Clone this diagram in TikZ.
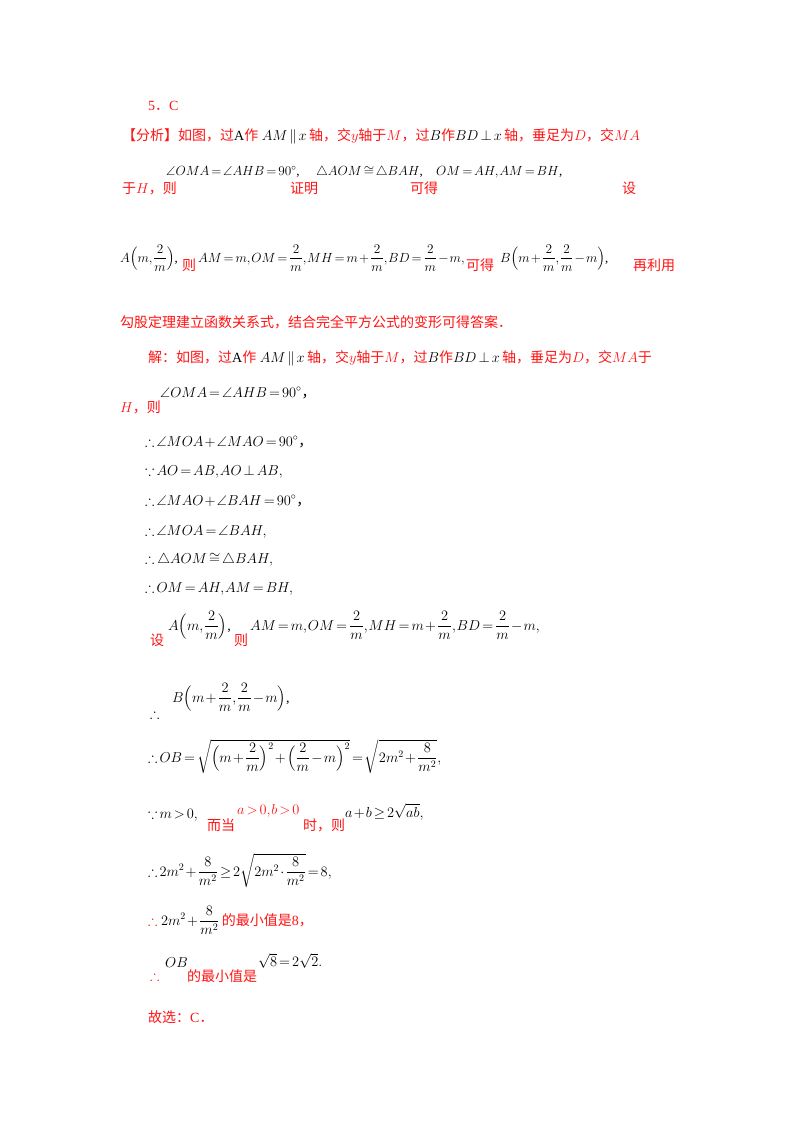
\documentclass[tikz,border=0pt]{standalone}
\usepackage{amsmath,amssymb}
\usepackage{fontspec}
\setmainfont{Liberation Serif}
\newfontfamily\cjk{Noto Sans CJK SC}
\newcommand{\zh}[1]{{\cjk #1}}
\newcommand{\sq}[1]{\scalebox{0.92}{#1}}
\definecolor{rd}{RGB}{255,20,20}
\AtBeginDocument{\medmuskip=1.5mu\thickmuskip=2.5mu\thinmuskip=1mu}
\begin{document}
\begin{tikzpicture}[x=1pt,y=-1pt,
  t/.style={anchor=base west,inner sep=0pt,font=\fontsize{14}{17}\selectfont},
  r/.style={t,text=rd}]
\useasboundingbox[fill=white] (0,0) rectangle (800,1132);
\node[r] (a1) at (148,110) {5\zh{．}C};
\node[r] (a2) at (122,140) {\zh{【分析】如图，过}\textcolor{black}{A}\zh{作} \textcolor{black}{$AM\parallel x$}\,\zh{轴，交}$y$\zh{轴于}$M$\zh{，过}\textcolor{black}{$B$}\zh{作}\textcolor{black}{$BD\perp x$}\,\zh{轴，垂足为}$D$\zh{，交}$MA$};
\node[r] (b1) at (122,193) {\zh{于}$H$\zh{，则}};
\node[t] (b2) at (166,175) {\sq{$\angle OMA=\angle AHB=90^\circ$,}};
\node[r] (b3) at (290,193) {\zh{证明}};
\node[t] (b4) at (316,175) {\sq{$\triangle AOM\cong\triangle BAH$,}};
\node[r] (b5) at (410,193) {\zh{可得}};
\node[t] (b6) at (436,175) {\sq{$OM=AH, AM=BH$,}};
\node[r] (b7) at (622,193) {\zh{设}};
\node[t] (c1) at (120,262) {\sq{$A\Bigl(m,\dfrac{2}{m}\Bigr)$,}};
\node[r] (c2) at (182,270) {\zh{则}};
\node[t] (c3) at (198,262) {\sq{$AM=m, OM=\dfrac{2}{m}, MH=m+\dfrac{2}{m}, BD=\dfrac{2}{m}-m,$}};
\node[r] (c4) at (466,270) {\zh{可得}};
\node[t] (c5) at (500,262) {\sq{$B\Bigl(m+\dfrac{2}{m},\dfrac{2}{m}-m\Bigr)$,}};
\node[r] (c6) at (633,270) {\zh{再利用}};
\node[r] (d1) at (120,327) {\zh{勾股定理建立函数关系式，结合完全平方公式的变形可得答案．}};
\node[r] (d2) at (148,362) {\zh{解：如图，过}\textcolor{black}{A}\zh{作} \textcolor{black}{$AM\parallel x$}\,\zh{轴，交}$y$\zh{轴于}$M$\zh{，过}\textcolor{black}{$B$}\zh{作}\textcolor{black}{$BD\perp x$}\,\zh{轴，垂足为}$D$\zh{，交}$MA$\zh{于}};
\node[r] (e1) at (120,412) {$H$\zh{，则}};
\node[t] (e2) at (160,397) {$\angle OMA=\angle AHB=90^\circ$\zh{，}};
\node[t] (e3) at (145,446) {$\therefore\angle MOA+\angle MAO=90^\circ$\zh{，}};
\node[t] (e4) at (145,475) {$\because AO=AB, AO\perp AB,$};
\node[t] (e5) at (145,505) {$\therefore\angle MAO+\angle BAH=90^\circ$\zh{，}};
\node[t] (e6) at (145,535) {$\therefore\angle MOA=\angle BAH,$};
\node[t] (e7) at (145,563) {$\therefore\,\triangle AOM\cong\triangle BAH,$};
\node[t] (e8) at (145,592) {$\therefore OM=AH, AM=BH,$};
\node[r] (f1) at (150,645) {\zh{设}};
\node[t] (f2) at (168,630) {$A\Bigl(m,\dfrac{2}{m}\Bigr)$,};
\node[r] (f3) at (234,645) {\zh{则}};
\node[t] (f4) at (250,630) {$AM=m, OM=\dfrac{2}{m}, MH=m+\dfrac{2}{m}, BD=\dfrac{2}{m}-m,$};
\node[t] (g1) at (150,718) {$\therefore$};
\node[t] (g2) at (172,702) {$B\Bigl(m+\dfrac{2}{m},\dfrac{2}{m}-m\Bigr)$,};
\node[t] (h1) at (148,762) {$\therefore OB=\sqrt{\Bigl(m+\dfrac{2}{m}\Bigr)^2+\Bigl(\dfrac{2}{m}-m\Bigr)^2}=\sqrt{2m^2+\dfrac{8}{m^2}},$};
\node[t] (i1) at (148,818) {$\because m>0,$};
\node[r] (i2) at (207,830) {\zh{而当}};
\node[r] (i3) at (237,814) {$a>0,b>0$};
\node[r] (i4) at (303,830) {\zh{时，则}};
\node[t] (i5) at (345,817) {$a+b\geq 2\sqrt{ab},$};
\node[t] (j1) at (148,876) {$\therefore 2m^2+\dfrac{8}{m^2}\geq 2\sqrt{2m^2\cdot\dfrac{8}{m^2}}=8,$};
\node[r] (k1) at (148,925) {$\therefore$ \textcolor{black}{$2m^2+\dfrac{8}{m^2}$}\,\zh{的最小值是}8\zh{，}};
\node[r] (l1) at (150,980) {$\therefore$};
\node[t] (l2) at (165,967) {$OB$};
\node[r] (l3) at (187,981) {\zh{的最小值是}};
\node[t] (l4) at (258,966) {$\sqrt{8}=2\sqrt{2}.$};
\node[r] (m1) at (148,1022) {\zh{故选：}C\zh{．}};
\end{tikzpicture}
\end{document}
